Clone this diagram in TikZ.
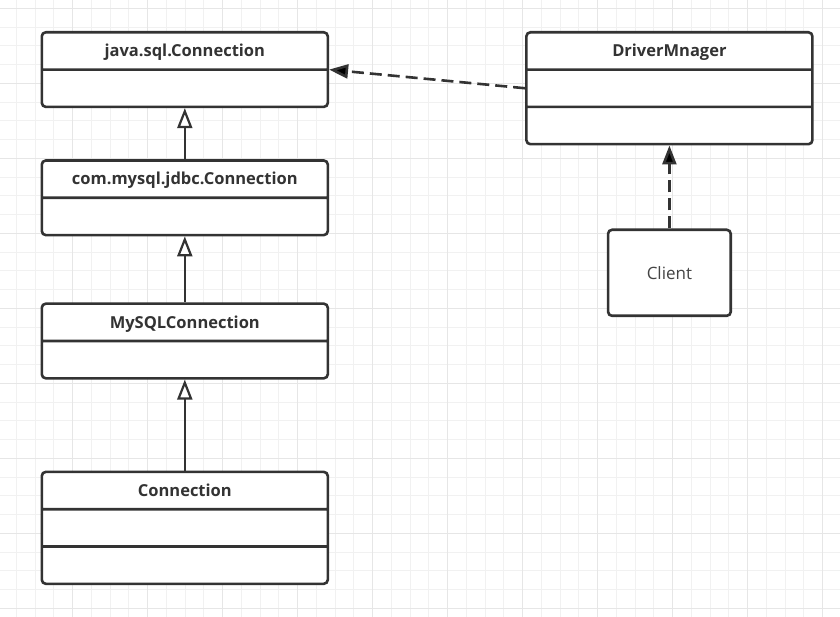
\documentclass[tikz,border=0pt]{standalone}
\usepackage{fontspec}
\setmainfont{Open Sans}
\usetikzlibrary{positioning}
\usetikzlibrary{shapes.multipart}
\usetikzlibrary{arrows.meta}

\definecolor{umlline}{HTML}{333333}
\definecolor{umltext}{HTML}{444444}
\definecolor{gridminor}{HTML}{F1F1F1}
\definecolor{gridmajor}{HTML}{E6E6E6}

\newcommand{\partstrut}{\rule[-11.5pt]{0pt}{34.7pt}}

\begin{document}
\begin{tikzpicture}
			[
				x = 1pt, y = -1pt,
				classbox/.style = {draw = umlline, fill = white, line width = 2.6pt, rounded corners = 4pt, rectangle split, rectangle split parts = #1, minimum width = 286pt, inner sep = 0pt, text = umlline, font = \fontsize{16.5}{18}\selectfont\bfseries},
				classbox/.default = 2,
				plainbox/.style = {draw = umlline, fill = white, line width = 2.6pt, rounded corners = 4pt, minimum width = 122.7pt, minimum height = 86pt, text = umltext, font = \fontsize{17}{18}\selectfont},
				gridline/.style = {draw = gridminor, line width = 1pt},
				gridbold/.style = {draw = gridmajor, line width = 1.4pt},
				inherit/.style = {draw = umlline, line width = 2.6pt, -{Triangle[open, width = 15pt, length = 20pt, line width = 2.2pt, fill = white]}},
				depend/.style = {draw = umlline, line width = 2.6pt, dash pattern = on 12pt off 6pt, -{Triangle[width = 14pt, length = 19pt]}}
			]
			%
			\useasboundingbox [fill = white] (0,0) rectangle (840,617);
			%
			\foreach \gx in {16.4,35.15,...,840} \draw [gridline] (\gx,0) -- (\gx,617);
			\foreach \gy in {8.3,27.05,...,617} \draw [gridline] (0,\gy) -- (840,\gy);
			\foreach \gx in {72.65,147.65,...,840} \draw [gridbold] (\gx,0) -- (\gx,617);
			\foreach \gy in {8.3,83.3,...,617} \draw [gridbold] (0,\gy) -- (840,\gy);
			%
			\node (jsql) [classbox, anchor = north west] at (40.5,31) {\partstrut java.sql.Connection \nodepart{two} \partstrut};
			%
			\node (jdbc) [classbox, below = 51pt of jsql] {\partstrut com.mysql.jdbc.Connection \nodepart{two} \partstrut};
			\draw [inherit] (jdbc) -- (jsql);
			%
			\node (mysqlconn) [classbox, below = 66pt of jdbc] {\partstrut MySQLConnection \nodepart{two} \partstrut};
			\draw [inherit] (mysqlconn) -- (jdbc);
			%
			\node (conn) [classbox = 3, below = 91pt of mysqlconn] {\partstrut Connection \nodepart{two} \partstrut \nodepart{three} \partstrut};
			\draw [inherit] (conn) -- (mysqlconn);
			%
			\node (driver) [classbox = 3, right = 196pt of jsql.north east, anchor = north west] {\partstrut DriverMnager \nodepart{two} \partstrut \nodepart{three} \partstrut};
			\draw [depend] (driver.west) -- (jsql.east);
			%
			\node (client) [plainbox, below = 83pt of driver] {Client};
			\draw [depend] (client) -- (driver);
			%
		\end{tikzpicture}
\end{document}
